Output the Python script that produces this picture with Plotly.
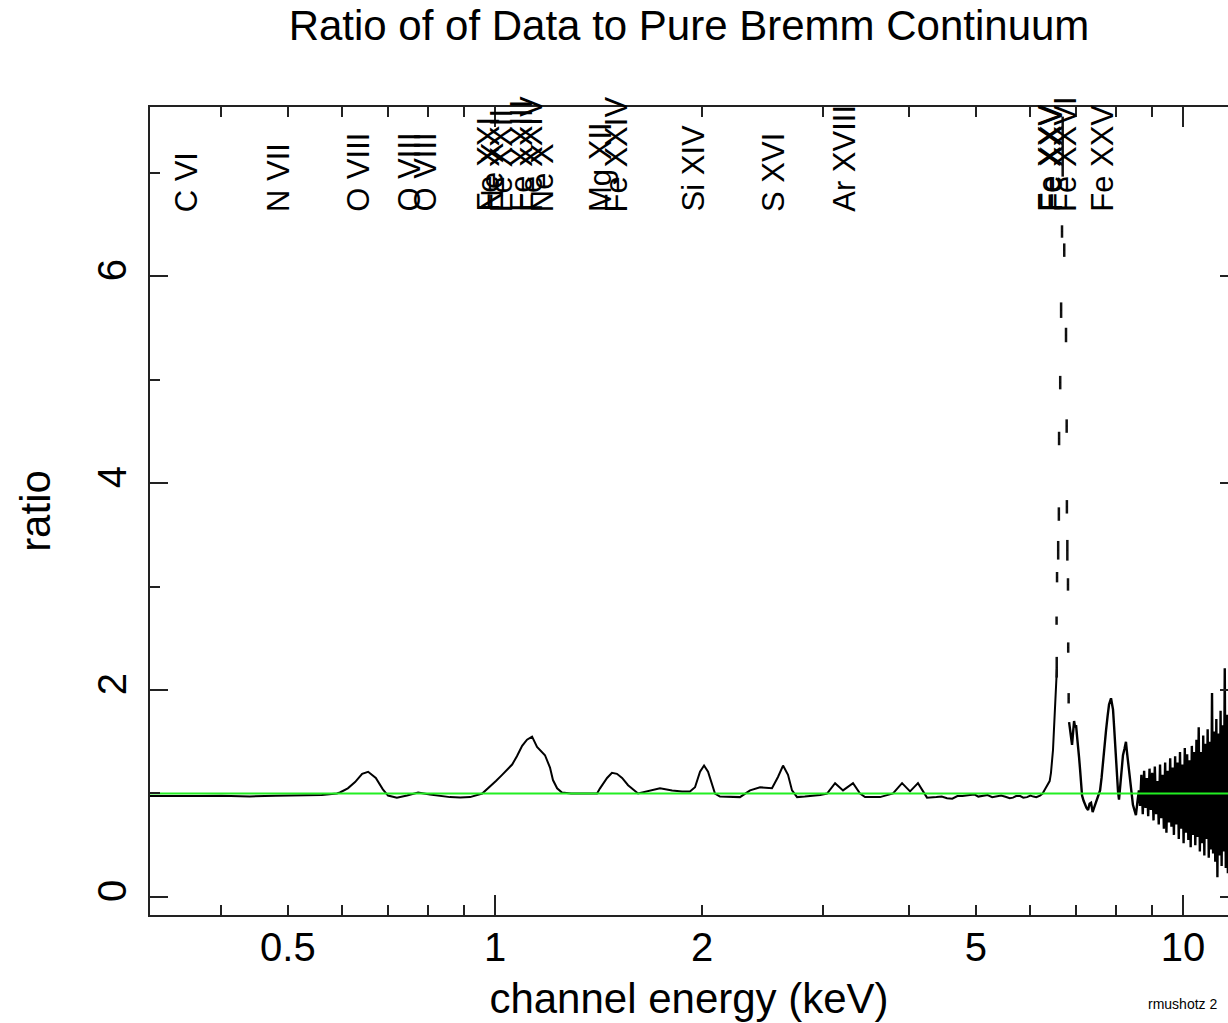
import numpy as np
import plotly.graph_objects as go

# ---------------- data ----------------
# low-energy part of the ratio spectrum (keV, ratio)
energy_low = [0.315, 0.34, 0.37, 0.40, 0.44, 0.48, 0.52, 0.56, 0.589, 0.595, 0.611, 0.626,
              0.641, 0.654, 0.671, 0.687, 0.699, 0.720, 0.745, 0.773, 0.804, 0.83, 0.860,
              0.89, 0.920, 0.958, 0.977, 1.003, 1.024, 1.041, 1.059, 1.076, 1.095, 1.113,
              1.132, 1.151, 1.182, 1.202, 1.214, 1.231, 1.251, 1.29, 1.33, 1.37, 1.407,
              1.421, 1.455, 1.479, 1.504, 1.530, 1.561, 1.614, 1.663, 1.737, 1.809, 1.87,
              1.920, 1.953, 1.986, 2.013, 2.040, 2.067, 2.088, 2.123, 2.20, 2.270, 2.348,
              2.428, 2.527, 2.578, 2.622, 2.666, 2.702, 2.748, 2.82, 2.899, 2.97, 3.038,
              3.121, 3.205, 3.314, 3.393, 3.450, 3.628, 3.789, 3.905, 4.011, 4.119, 4.217,
              4.245, 4.38, 4.46, 4.539, 4.62, 4.70, 4.78, 4.903, 4.98, 5.04, 5.12, 5.20,
              5.28, 5.367, 5.44, 5.52, 5.60, 5.661, 5.72, 5.80, 5.86, 5.933, 6.00, 6.06,
              6.12, 6.197, 6.25, 6.301, 6.343, 6.40, 6.428, 6.472, 6.493, 6.516, 6.545, 6.556]
ratio_low = [0.975, 0.972, 0.975, 0.978, 0.972, 0.978, 0.985, 0.985, 1.0, 1.01, 1.05, 1.11,
             1.19, 1.21, 1.15, 1.04, 0.98, 0.96, 0.98, 1.01, 0.99, 0.975, 0.965,
             0.962, 0.965, 1.0, 1.05, 1.12, 1.18, 1.23, 1.28, 1.36, 1.46, 1.52,
             1.55, 1.45, 1.37, 1.25, 1.13, 1.05, 1.01, 1.0, 1.0, 1.0, 1.0,
             1.05, 1.15, 1.20, 1.19, 1.15, 1.08, 1.0, 1.02, 1.05, 1.03, 1.02,
             1.02, 1.06, 1.21, 1.27, 1.21, 1.10, 1.0, 0.97, 0.965, 0.965, 1.03,
             1.06, 1.05, 1.16, 1.27, 1.18, 1.03, 0.965, 0.97, 0.975, 0.985, 1.0,
             1.10, 1.03, 1.10, 1.0, 0.965, 0.965, 1.0, 1.10, 1.02, 1.10, 0.98,
             0.96, 0.965, 0.97, 0.955, 0.95, 0.975, 0.975, 0.985, 0.99, 0.97, 0.98, 0.985,
             0.965, 0.975, 0.98, 0.968, 0.955, 0.96, 0.975, 0.975, 0.96, 0.965, 0.98, 0.97,
             0.965, 0.98, 1.0, 1.04, 1.07, 1.12, 1.20, 1.42, 1.62, 1.85, 2.05, 2.2]

# Fe K peak: sparse points with vertical error bars
energy_peak = [6.553, 6.55, 6.56, 6.585, 6.60, 6.605, 6.63, 6.65, 6.67, 6.685, 6.72, 6.76,
               6.775, 6.78, 6.79, 6.805, 6.81, 6.82]
ratio_peak = [2.22, 2.67, 3.09, 3.35, 3.70, 4.43, 4.97, 5.67, 6.43, 7.25, 6.25, 5.43,
              4.55, 3.77, 3.35, 3.02, 2.41, 1.92]
error_peak = [0.10, 0.04, 0.05, 0.09, 0.065, 0.065, 0.065, 0.075, 0.06, 0.29, 0.065, 0.07,
              0.065, 0.065, 0.10, 0.06, 0.05, 0.05]

# high-energy part (after the Fe XXV peak)
energy_high = [6.83, 6.852, 6.875, 6.898, 6.92, 6.945, 6.968, 6.991, 7.015, 7.038, 7.062,
               7.086, 7.11, 7.133, 7.17, 7.205, 7.24, 7.278, 7.315, 7.351, 7.39, 7.425,
               7.46, 7.50, 7.54, 7.576, 7.614, 7.652, 7.69, 7.729, 7.77, 7.807, 7.859,
               7.885, 7.912, 7.94, 7.965, 7.99, 8.018, 8.045, 8.072, 8.10, 8.126, 8.153,
               8.18, 8.22, 8.262, 8.29, 8.318, 8.346, 8.374, 8.415, 8.457, 8.50, 8.542,
               8.585, 8.628,
               8.66, 8.70, 8.74, 8.78, 8.82, 8.86, 8.90, 8.94, 8.98, 9.02, 9.06, 9.10,
               9.14, 9.18, 9.22, 9.26, 9.30, 9.34, 9.38, 9.42, 9.46, 9.50, 9.54, 9.58,
               9.62, 9.66, 9.70, 9.74, 9.78, 9.82, 9.86, 9.90, 9.94, 9.98, 10.02, 10.06,
               10.10, 10.14, 10.18, 10.22, 10.26, 10.30, 10.34, 10.38, 10.42, 10.46, 10.50,
               10.54, 10.58, 10.62, 10.66, 10.70, 10.74, 10.78, 10.82, 10.86, 10.90, 10.94,
               10.98, 11.02, 11.06, 11.10, 11.14, 11.18, 11.22, 11.26, 11.30, 11.34, 11.38,
               11.42, 11.46, 11.50, 11.54, 11.58, 11.62]
ratio_high = [1.69, 1.62, 1.55, 1.47, 1.58, 1.70, 1.64, 1.66, 1.55, 1.47, 1.35,
              1.23, 1.10, 0.98, 0.93, 0.89, 0.86, 0.84, 0.90, 0.91, 0.82, 0.86,
              0.90, 0.94, 0.97, 1.03, 1.15, 1.32, 1.48, 1.61, 1.75, 1.86, 1.92,
              1.88, 1.81, 1.65, 1.47, 1.30, 1.18, 1.02, 0.94, 1.05, 1.18, 1.28,
              1.37, 1.43, 1.50, 1.40, 1.32, 1.20, 1.13, 1.00, 0.89, 0.84, 0.79,
              0.92, 1.03,
              0.88, 1.18, 0.80, 1.22, 0.86, 1.15, 0.78, 1.24, 0.84, 1.20, 0.74, 1.26,
              0.80, 1.12, 0.70, 1.28, 0.76, 1.18, 0.66, 1.30, 0.62, 1.22, 0.72, 1.34,
              0.68, 1.25, 0.60, 1.36, 0.70, 1.30, 0.56, 1.40, 0.66, 1.28, 0.52, 1.44,
              0.62, 1.38, 0.55, 1.32, 0.48, 1.46, 0.60, 1.40, 0.50, 1.52, 0.58,
              1.64, 0.44, 1.40, 0.52, 1.56, 0.40, 1.48, 0.56, 1.62, 0.38, 1.50,
              0.46, 1.97, 0.42, 1.60, 0.34, 1.72, 0.19, 1.58, 0.40, 1.80, 0.30,
              1.66, 0.44, 2.21, 0.28, 1.76, 0.23]

# pure bremsstrahlung model (ratio = 1)
model_energy = [0.30, 12.0]
model_ratio = [1.0, 1.0]

# emission line labels (name, keV)
line_names = ["C VI", "N VII", "O VIII", "O VIII", "O VIII",
              "Fe XXI", "Ne X", "Fe XXII", "Fe XXIII", "Fe XXIV", "Ne X",
              "Mg XII", "Fe XXIV", "Si XIV", "S XVI", "Ar XVIII",
              "Fe XXV", "Fe XXV", "Fe XXVI", "Fe XXV"]
line_energies = [0.3675, 0.5003, 0.6536, 0.7746, 0.8170,
                 1.009, 1.022, 1.053, 1.129, 1.168, 1.211,
                 1.472, 1.55, 2.006, 2.622, 3.323,
                 6.60, 6.64, 6.966, 7.881]

x_tickvals = [0.5, 1, 2, 5, 10]
x_ticktext = ["0.5", "1", "2", "5", "10"]
x_minor = [0.4, 0.6, 0.7, 0.8, 0.9, 3, 4, 6, 7, 8, 9]
x_decades = [1, 10]
y_tickvals = [0, 2, 4, 6]
y_minor = [1, 3, 5, 7]

# ---------------- figure ----------------
FONT = "Liberation Sans, Arial, Helvetica, sans-serif"
AX = "#222222"
xr = [-0.5015, 1.0654]
yr = [-0.174, 7.633]

fig = go.Figure()
fig.add_trace(go.Scatter(x=energy_low, y=ratio_low, mode="lines",
                         line=dict(color="black", width=2), showlegend=False))
fig.add_trace(go.Scatter(x=energy_high, y=ratio_high, mode="lines",
                         line=dict(color="black", width=2.4), showlegend=False))
fig.add_trace(go.Scatter(x=energy_peak, y=ratio_peak, mode="markers",
                         marker=dict(size=1, color="black"),
                         error_y=dict(type="data", array=error_peak, visible=True,
                                      color="#111111", thickness=2.5, width=0),
                         showlegend=False))
fig.add_trace(go.Scatter(x=model_energy, y=model_ratio, mode="lines",
                         line=dict(color="#22ee22", width=2), showlegend=False))
# empty trace for the overlay axes (long decade ticks / right ticks)
fig.add_trace(go.Scatter(x=[], y=[], xaxis="x2", yaxis="y2", showlegend=False))

for name, e in zip(line_names, line_energies):
    fig.add_annotation(x=np.log10(e), y=6.60, xref="x", yref="y", text=name,
                       textangle=-90, showarrow=False, xanchor="right",
                       yanchor="bottom", xshift=10,
                       font=dict(family=FONT, size=31, color="black"))

fig.add_annotation(x=0.924, y=-0.11, xref="paper", yref="paper",
                   text="rmushotz 2", showarrow=False,
                   xanchor="left", yanchor="middle",
                   font=dict(family=FONT, size=14, color="black"))

fig.update_layout(
    width=1228, height=1023,
    margin=dict(l=150, r=0, t=107, b=108, pad=0),
    paper_bgcolor="white", plot_bgcolor="white",
    font=dict(family=FONT, color="black"),
    title=dict(text="Ratio of of Data to Pure Bremm Continuum",
               x=0.5, xref="paper", y=1 - 25 / 1023, yref="container",
               xanchor="center", yanchor="middle",
               font=dict(family=FONT, size=42, color="black")),
    xaxis=dict(type="log", range=xr, tickmode="array", tickvals=x_tickvals,
               ticktext=x_ticktext, ticks="inside", ticklen=10, tickwidth=1.5,
               tickcolor=AX, showline=True, linewidth=1.5, linecolor=AX,
               mirror="ticks", showgrid=False, zeroline=False,
               tickfont=dict(family=FONT, size=40, color="black"),
               ticklabelstandoff=-4,
               minor=dict(tickmode="array", tickvals=x_minor, ticks="inside",
                          ticklen=10, tickwidth=1.5, tickcolor=AX, showgrid=False),
               title=dict(text="channel energy (keV)", standoff=16,
                          font=dict(family=FONT, size=42, color="black"))),
    xaxis2=dict(type="log", range=xr, overlaying="x", anchor="y2", side="bottom",
                tickmode="array", tickvals=x_decades, ticks="inside", ticklen=20,
                tickwidth=1.5, tickcolor=AX, showticklabels=False, showline=False,
                mirror="ticks", showgrid=False, zeroline=False),
    yaxis=dict(range=yr, tickmode="array", tickvals=y_tickvals, ticks="inside",
               ticklen=18, tickwidth=1.5, tickcolor=AX, showline=True, linewidth=1.5,
               linecolor=AX, mirror=False, showgrid=False, zeroline=False,
               tickangle=-90, ticklabelstandoff=6,
               tickfont=dict(family=FONT, size=40, color="black"),
               minor=dict(tickmode="array", tickvals=y_minor, ticks="inside",
                          ticklen=10, tickwidth=1.5, tickcolor=AX, showgrid=False),
               title=dict(text="ratio", standoff=27,
                          font=dict(family=FONT, size=42, color="black"))),
    yaxis2=dict(range=yr, overlaying="y", anchor="x2", side="right",
                tickmode="array", tickvals=y_tickvals, ticks="inside", ticklen=8,
                tickwidth=1.5, tickcolor=AX, showticklabels=False, showline=False,
                showgrid=False, zeroline=False),
)

fig.write_html("out.html")
